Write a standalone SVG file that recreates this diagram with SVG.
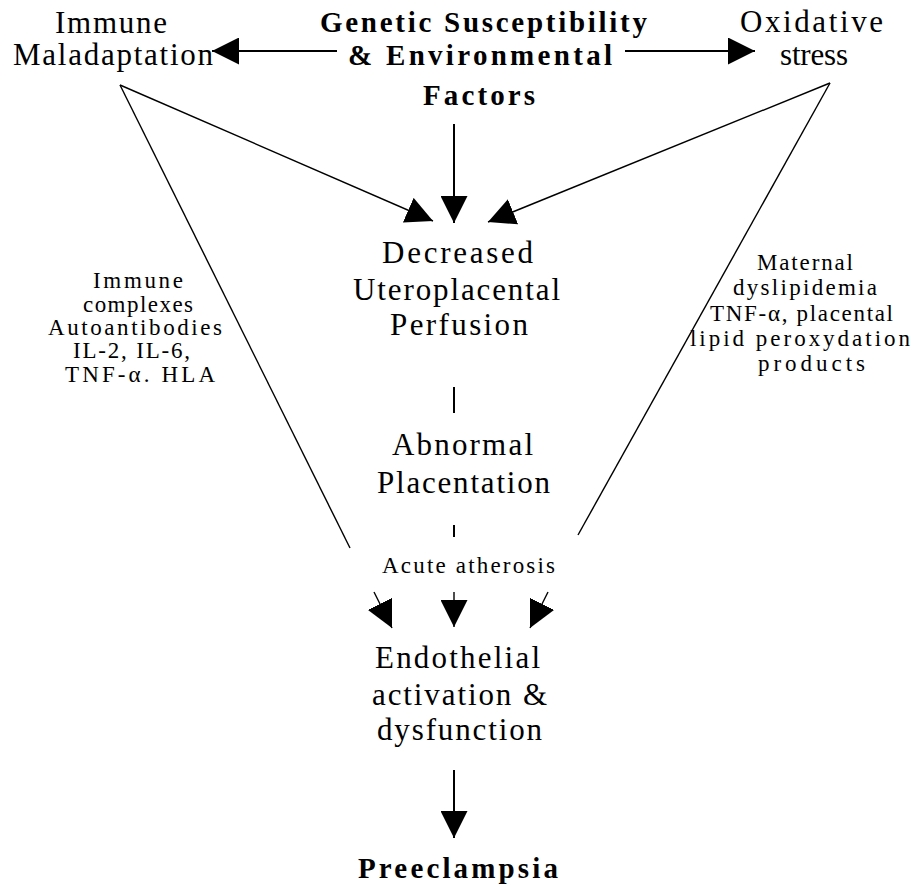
<svg xmlns="http://www.w3.org/2000/svg" width="915" height="887" viewBox="0 0 915 887">
<style>
text{font-family:'Liberation Serif','DejaVu Serif','Times New Roman',serif;fill:#000;}
.m{font-size:31px;}
.b{font-size:29px;font-weight:bold;}
.s{font-size:23px;}
.ln{stroke:#000;stroke-width:2;fill:none;}
.thin{stroke:#000;stroke-width:1.4;fill:none;}
</style>
<defs>
<marker id="ah" viewBox="0 0 27 27" refX="27" refY="13.5" markerWidth="27" markerHeight="27" markerUnits="userSpaceOnUse" orient="auto">
<path d="M0,0 L27,13.5 L0,27 z" fill="#000"/>
</marker>
</defs>
<rect width="915" height="887" fill="#fff"/>
<g id="connectors">
<line class="ln" x1="337" y1="51" x2="212" y2="51" marker-end="url(#ah)"/>
<line class="ln" x1="625" y1="51" x2="755" y2="51" marker-end="url(#ah)"/>
<line class="ln" x1="454" y1="124" x2="454" y2="223" marker-end="url(#ah)"/>
<line class="thin" x1="120" y1="85" x2="433" y2="221" marker-end="url(#ah)"/>
<line class="thin" x1="830" y1="83" x2="488" y2="222" marker-end="url(#ah)"/>
<line class="thin" x1="120" y1="85" x2="350" y2="548"/>
<line class="thin" x1="830" y1="83" x2="578" y2="535"/>
<line class="ln" x1="454" y1="387" x2="454" y2="413"/>
<line class="ln" x1="454" y1="525" x2="454" y2="537"/>
<line class="thin" x1="374" y1="592" x2="392" y2="628" marker-end="url(#ah)"/>
<line class="thin" x1="454" y1="592" x2="454" y2="627" marker-end="url(#ah)"/>
<line class="thin" x1="548" y1="592" x2="530" y2="628" marker-end="url(#ah)"/>
<line class="ln" x1="454" y1="770" x2="454" y2="838" marker-end="url(#ah)"/>
</g>
<g id="immune-maladaptation">
<text class="m" x="55" y="33" textLength="112" lengthAdjust="spacing">Immune</text>
<text class="m" x="13" y="65" textLength="200" lengthAdjust="spacing">Maladaptation</text>
</g>
<g id="genetic">
<text class="b" x="320" y="32" textLength="327" lengthAdjust="spacing">Genetic Susceptibility</text>
<text class="b" x="348" y="65" textLength="264" lengthAdjust="spacing">&amp; Environmental</text>
<text class="b" x="423" y="105" textLength="112" lengthAdjust="spacing">Factors</text>
</g>
<g id="oxidative-stress">
<text class="m" x="740" y="32" textLength="143" lengthAdjust="spacing">Oxidative</text>
<text class="m" x="780" y="65" textLength="68" lengthAdjust="spacing">stress</text>
</g>
<g id="decreased-perfusion">
<text class="m" x="382" y="263" textLength="151" lengthAdjust="spacing">Decreased</text>
<text class="m" x="353" y="300" textLength="207" lengthAdjust="spacing">Uteroplacental</text>
<text class="m" x="390" y="335" textLength="138" lengthAdjust="spacing">Perfusion</text>
</g>
<g id="abnormal-placentation">
<text class="m" x="392" y="455" textLength="141" lengthAdjust="spacing">Abnormal</text>
<text class="m" x="377" y="493" textLength="173" lengthAdjust="spacing">Placentation</text>
</g>
<g id="acute-atherosis">
<text class="s" x="382" y="573" textLength="173" lengthAdjust="spacing">Acute atherosis</text>
</g>
<g id="endothelial">
<text class="m" x="375" y="668" textLength="165" lengthAdjust="spacing">Endothelial</text>
<text class="m" x="372" y="705" textLength="175" lengthAdjust="spacing">activation &amp;</text>
<text class="m" x="377" y="740" textLength="165" lengthAdjust="spacing">dysfunction</text>
</g>
<g id="preeclampsia">
<text class="b" x="358" y="878" textLength="200" lengthAdjust="spacing">Preeclampsia</text>
</g>
<g id="immune-label">
<text class="s" x="93" y="288" textLength="90" lengthAdjust="spacing">Immune</text>
<text class="s" x="83" y="312" textLength="110" lengthAdjust="spacing">complexes</text>
<text class="s" x="48" y="335" textLength="174" lengthAdjust="spacing">Autoantibodies</text>
<text class="s" x="73" y="358" textLength="117" lengthAdjust="spacing">IL-2, IL-6,</text>
<text class="s" x="65" y="382" textLength="150" lengthAdjust="spacing">TNF-α. HLA</text>
</g>
<g id="oxidative-label">
<text class="s" x="757" y="270" textLength="96" lengthAdjust="spacing">Maternal</text>
<text class="s" x="733" y="295" textLength="144" lengthAdjust="spacing">dyslipidemia</text>
<text class="s" x="710" y="321" textLength="183" lengthAdjust="spacing">TNF-α, placental</text>
<text class="s" x="690" y="346" textLength="220" lengthAdjust="spacing">lipid peroxydation</text>
<text class="s" x="758" y="371" textLength="107" lengthAdjust="spacing">products</text>
</g>
</svg>
